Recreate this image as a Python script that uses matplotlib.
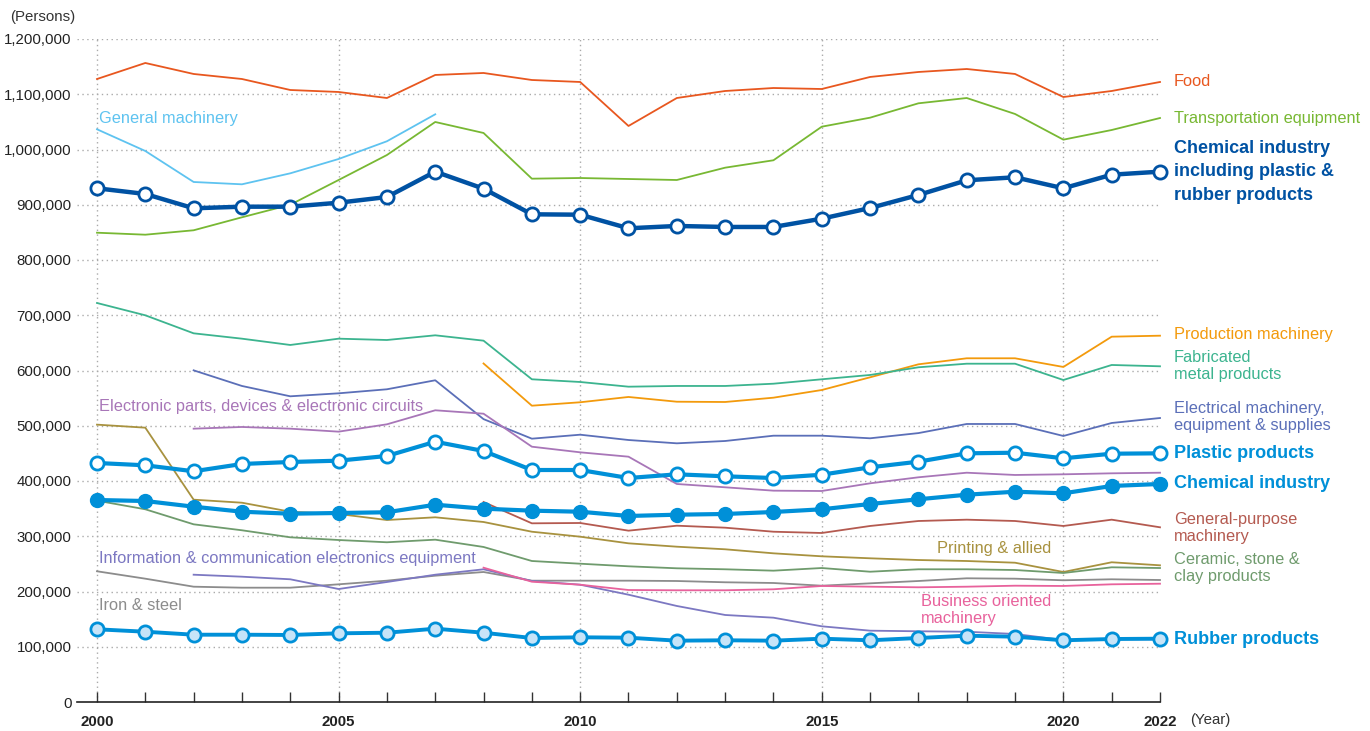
import numpy as np
import matplotlib
matplotlib.use("Agg")
import matplotlib.pyplot as plt

plt.rcParams['font.family'] = ['Liberation Sans', 'DejaVu Sans']

# Years on the x axis
years = list(range(2000, 2023))
nan = np.nan

# Employees (persons) by industry
food = [1127600, 1156600, 1136700, 1127600, 1107700, 1104100, 1093200, 1134900,
        1138500, 1125800, 1122200, 1042600, 1093200, 1105900, 1111300, 1109500,
        1131300, 1140300, 1145700, 1136700, 1095000, 1105900, 1122200]
transport = [849400, 845800, 853800, 877300, 900000, 944800, 990000, 1049800,
             1029900, 947200, 948400, 946600, 944800, 967100, 980500, 1041300,
             1057600, 1083600, 1093200, 1064300, 1017800, 1035300, 1057000]
general_mach = [1036600, 997300, 941200, 937000, 956900, 982800, 1014900, 1063700] + [nan] * 15
chem_incl = [929800, 919500, 893600, 896500, 896500, 903700, 914000, 959900,
             929100, 882700, 882000, 857400, 861600, 859800, 859800, 874800,
             894100, 917700, 944300, 949700, 929800, 954400, 959900]
production_mach = [nan] * 8 + [612700, 536300, 542500, 552100, 543500, 543000, 550800,
                               564700, 587700, 611200, 622100, 622100, 606400, 661200, 663000]
fabricated = [722200, 699900, 667300, 657600, 646200, 657600, 655200, 663700,
              654000, 584100, 579200, 570700, 572000, 572000, 576100, 584100,
              591900, 605800, 612300, 612300, 582800, 610000, 607600]
electrical = [nan, nan, 600300, 572000, 553300, 558700, 566000, 582300,
              512000, 476600, 483800, 474200, 468200, 472400, 482000, 482000,
              477300, 486700, 503200, 503200, 481500, 505000, 514000]
electronic_parts = [nan, nan, 494700, 497800, 494700, 489300, 502600, 528000,
                    521800, 462100, 451900, 444000, 394600, 388600, 382500, 381900,
                    395800, 406700, 415000, 410900, 412100, 413900, 415000]
plastic = [432600, 428400, 417600, 430800, 434400, 436800, 445300, 471100,
           454300, 419900, 419900, 405400, 412100, 408500, 405400, 411400,
           424800, 435000, 450100, 451200, 441100, 449400, 450100]
chemical = [365600, 363800, 353500, 344400, 340800, 342100, 343400, 357100,
            349900, 346300, 344400, 336700, 339000, 340300, 343900, 348800,
            358400, 366900, 375200, 380600, 377700, 391000, 394600]
general_purpose = [nan] * 8 + [362000, 323400, 324000, 310100, 319100, 315500, 308200,
                               305900, 318600, 327600, 330000, 327600, 318600, 330000, 316200]
printing = [502000, 496500, 366200, 360700, 344400, 340300, 329400, 334300,
            325800, 308200, 299200, 287200, 281100, 276400, 269100, 263700,
            260100, 257000, 255200, 252100, 235300, 252900, 247400]
ceramic = [364400, 348800, 321600, 310800, 298100, 293200, 289100, 293800,
           280600, 255200, 250300, 245600, 242000, 240200, 237700, 242500,
           235800, 240200, 240200, 238900, 233500, 243800, 242500]
iron_steel = [236600, 223200, 208700, 206900, 206900, 213000, 219600, 228600,
              235300, 219600, 219600, 219600, 219000, 216700, 215400, 210500,
              214800, 219000, 223900, 223200, 220300, 222100, 220800]
info_comm = [nan, nan, 230400, 226800, 222100, 204500, 217200, 230400,
             240200, 219000, 212300, 194200, 173800, 157500, 152600, 137000,
             129100, 128000, 127200, 123100, 112200, 113500, 113500]
business = [nan] * 8 + [243100, 217700, 212300, 202700, 202200, 202200, 204000,
                        210000, 208700, 207600, 208700, 210500, 210000, 213000, 214100]
rubber = [131600, 127200, 121800, 121800, 121300, 124300, 125400, 132700,
          125400, 115800, 117100, 116400, 111000, 111700, 111000, 114600,
          111700, 115800, 120000, 118200, 111700, 114000, 114600]

# Colours
c_food = '#e8571f'
c_transport = '#78b833'
c_genmach = '#5ec3f0'
c_chemincl = '#0052a3'
c_prod = '#f39a0c'
c_fab = '#3cb48f'
c_elec = '#5b6fb8'
c_eparts = '#a876b8'
c_blue = '#0090d8'
c_genpur = '#b45a50'
c_print = '#a8923f'
c_ceramic = '#6f9b6d'
c_iron = '#8c8c8c'
c_info = '#7c78c2'
c_business = '#e8629c'

fig = plt.figure(figsize=(13.7, 7.31), dpi=100)
ax = fig.add_axes([77 / 1370, 1 - 702 / 731, (1160 - 77) / 1370, (702 - 39) / 731])

# Thin lines
thin = [
    (food, c_food), (transport, c_transport), (general_mach, c_genmach),
    (production_mach, c_prod), (fabricated, c_fab), (electrical, c_elec),
    (electronic_parts, c_eparts), (general_purpose, c_genpur), (printing, c_print),
    (ceramic, c_ceramic), (iron_steel, c_iron), (info_comm, c_info), (business, c_business),
]
for data, col in thin:
    ax.plot(years, data, color=col, lw=1.3, zorder=3, clip_on=False)

# Thick lines with markers
ax.plot(years, chem_incl, color=c_chemincl, lw=3.2, marker='o', ms=9.5,
        mfc='white', mec=c_chemincl, mew=2.0, zorder=5, clip_on=False)
ax.plot(years, plastic, color=c_blue, lw=3.0, marker='o', ms=9.5,
        mfc='white', mec=c_blue, mew=2.0, zorder=5, clip_on=False)
ax.plot(years, chemical, color=c_blue, lw=3.0, marker='o', ms=10,
        mfc=c_blue, mec=c_blue, zorder=5, clip_on=False)
ax.plot(years, rubber, color=c_blue, lw=2.8, marker='o', ms=9.5,
        mfc='#c7e4f8', mec=c_blue, mew=2.0, zorder=5, clip_on=False)

# Axes styling
ax.set_xlim(2000 - 20 / 48.32, 2022)
ax.set_ylim(0, 1200000)
for s in ['top', 'right', 'left']:
    ax.spines[s].set_visible(False)
ax.spines['bottom'].set_color('#222222')
ax.spines['bottom'].set_linewidth(1.2)

ax.set_yticks(range(0, 1200001, 100000))
ax.set_yticklabels([f"{v:,}" for v in range(0, 1200001, 100000)], fontsize=10.8)
ax.tick_params(axis='y', length=0, pad=4, labelcolor='#222222')
for v in range(100000, 1200001, 100000):
    ax.axhline(v, color='#aaaaaa', lw=1.0, ls=(0, (1, 2.5)), zorder=1)

ax.set_xticks(years)
ax.set_xticklabels([str(y) if y in (2000, 2005, 2010, 2015, 2020, 2022) else '' for y in years],
                   fontsize=10.8, fontweight='bold')
ax.tick_params(axis='x', direction='in', length=7.5, width=1.0, color='#333333',
               pad=9, labelcolor='#222222')
for y in (2000, 2005, 2010, 2015, 2020):
    ax.axvline(y, color='#aaaaaa', lw=1.0, ls=(0, (1, 2.5)), zorder=1)

fig.text(10 / 1370, 1 - 17 / 731, '(Persons)', fontsize=10.8, color='#333333', va='center')
fig.text(1190 / 1370, 1 - 720 / 731, '(Year)', fontsize=10.8, color='#333333', va='center')

# Label helper, positions in pixels from the top-left corner
def flabel(x, y, s, col, size=11.8, weight='normal', ls=1.1):
    fig.text(x / 1370, 1 - y / 731, s, color=col, fontsize=size, fontweight=weight,
             va='center', ha='left', linespacing=ls)

# Right-side labels
flabel(1174, 81, 'Food', c_food)
flabel(1174, 118, 'Transportation equipment', c_transport)
flabel(1174, 172, 'Chemical industry\nincluding plastic &\nrubber products', c_chemincl, 13, 'bold', 1.52)
flabel(1174, 335, 'Production machinery', c_prod)
flabel(1174, 366, 'Fabricated\nmetal products', c_fab)
flabel(1174, 417, 'Electrical machinery,\nequipment & supplies', c_elec)
flabel(1174, 454, 'Plastic products', c_blue, 13, 'bold')
flabel(1174, 484, 'Chemical industry', c_blue, 13, 'bold')
flabel(1174, 528, 'General-purpose\nmachinery', c_genpur)
flabel(1174, 568, 'Ceramic, stone &\nclay products', c_ceramic)
flabel(1174, 640, 'Rubber products', c_blue, 13, 'bold')

# Labels inside the plot
flabel(99, 119, 'General machinery', c_genmach)
flabel(99, 407, 'Electronic parts, devices & electronic circuits', c_eparts)
flabel(937, 548, 'Printing & allied', c_print)
flabel(99, 558, 'Information & communication electronics equipment', c_info)
flabel(99, 605, 'Iron & steel', c_iron)
flabel(921, 610, 'Business oriented\nmachinery', c_business)

fig.savefig('out.png', dpi=100)
